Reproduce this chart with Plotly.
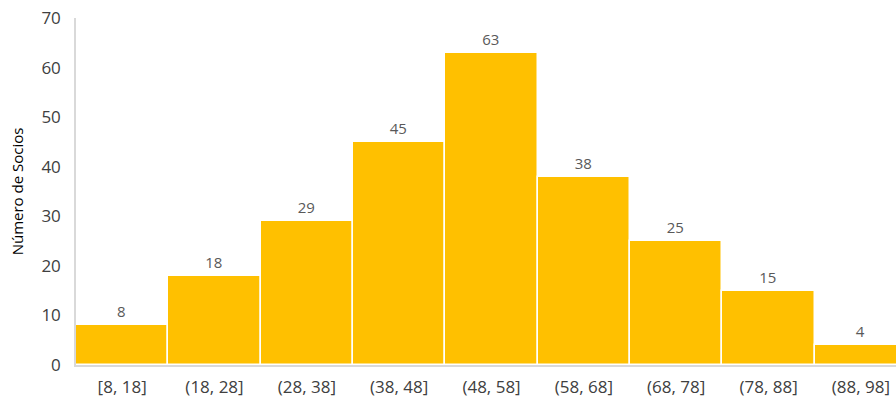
import plotly.graph_objects as go

categories = ["[8, 18]", "(18, 28]", "(28, 38]", "(38, 48]", "(48, 58]", "(58, 68]", "(68, 78]", "(78, 88]", "(88, 98]"]
counts = [8, 18, 29, 45, 63, 38, 25, 15, 4]
y_title = "Número de Socios"

fig = go.Figure(go.Bar(
    x=list(range(len(categories))),
    y=counts,
    text=[str(c) for c in counts],
    textposition="outside",
    textfont=dict(family="Open Sans, sans-serif", size=15, color="#595959"),
    cliponaxis=False,
    marker=dict(color="#FFC000", line=dict(color="white", width=1.5)),
    width=1.0,
))

fig.update_layout(
    width=896, height=401,
    margin=dict(l=76, r=0, t=18, b=36),
    plot_bgcolor="white", paper_bgcolor="white",
    bargap=0,
    showlegend=False,
    font=dict(family="Open Sans, sans-serif", size=16, color="#404040"),
)
fig.update_xaxes(
    tickmode="array",
    tickvals=list(range(len(categories))),
    ticktext=categories,
    range=[-0.5, 8.38],
    showline=True, linecolor="#D9D9D9", linewidth=1.5,
    showgrid=False, ticks="", zeroline=False,
    tickfont=dict(size=17, color="#404040"),
    ticklabelstandoff=6,
)
fig.update_yaxes(
    range=[0, 70], dtick=10,
    showline=True, linecolor="#D9D9D9", linewidth=1.5,
    showgrid=False, ticks="", zeroline=False,
    tickfont=dict(size=17, color="#404040"),
    ticklabelstandoff=10,
    title=dict(text=y_title, font=dict(size=15, color="#000000"), standoff=14),
)

fig.write_html("out.html")
